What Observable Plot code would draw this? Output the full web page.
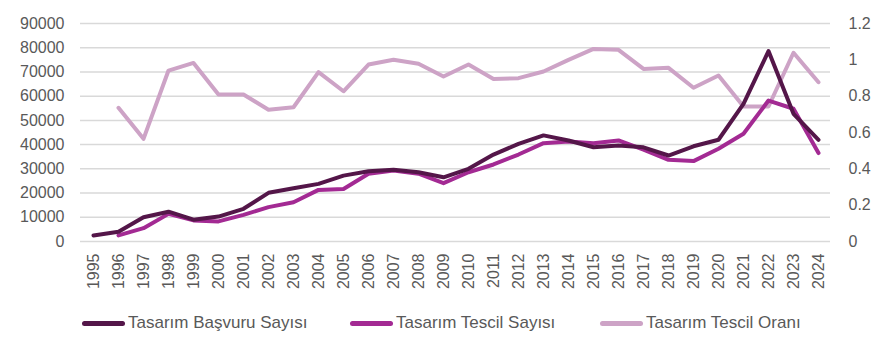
<!DOCTYPE html>
<html>
<head>
<meta charset="utf-8">
<script src="https://cdn.jsdelivr.net/npm/d3@7"></script>
<script src="https://cdn.jsdelivr.net/npm/@observablehq/plot@0.6"></script>
<style>
  html, body { margin: 0; padding: 0; background: #fff; }
  #wrap { position: relative; width: 889px; height: 356px; font-family: "Liberation Sans", Arial, sans-serif; }
  .leg { position: absolute; top: 313px; display: flex; align-items: center; font-size: 17px; color: #595959; white-space: nowrap; }
  .sw { width: 43px; height: 5px; border-radius: 3px; margin-right: 3px; }
</style>
</head>
<body>
<div id="wrap"></div>
<script>
const years = ["1995","1996","1997","1998","1999","2000","2001","2002","2003","2004","2005","2006","2007","2008","2009","2010","2011","2012","2013","2014","2015","2016","2017","2018","2019","2020","2021","2022","2023","2024"];
const basvuru = [2500,4000,10000,12300,9000,10300,13500,20100,22000,23800,27200,29000,29600,28600,26500,30000,35900,40300,43800,41700,38900,39600,38900,35500,39300,42000,56800,78600,52700,42000];
const tescil = [null,2500,5500,11400,8700,8300,11000,14200,16200,21300,21700,28000,29300,28000,24100,28600,31800,35900,40600,41300,40600,41700,37900,33700,33200,38300,44500,58200,54800,36500];
const oran = [null,0.736,0.565,0.941,0.983,0.809,0.809,0.725,0.739,0.932,0.827,0.974,1.0,0.978,0.908,0.974,0.895,0.899,0.936,1.0,1.06,1.055,0.95,0.956,0.846,0.914,0.743,0.743,1.039,0.877];
const leftTicks = [0,10000,20000,30000,40000,50000,60000,70000,80000,90000];
const rightTicks = [0,0.2,0.4,0.6,0.8,1,1.2];
const seriesNames = ["Tasarım Başvuru Sayısı","Tasarım Tescil Sayısı","Tasarım Tescil Oranı"];
const colors = ["#541649","#a32a93","#cda3c6"];

const ratioFactor = 90000 / 1.2;
const mk = (vals, f) => years.map((y, i) => ({year: y, v: vals[i] == null ? null : vals[i] * f}));
const dB = mk(basvuru, 1), dT = mk(tescil, 1), dO = mk(oran, ratioFactor);

const plot = Plot.plot({
  width: 889,
  height: 300,
  marginTop: 23,
  marginBottom: 59,
  marginLeft: 80,
  marginRight: 59,
  style: {fontFamily: "'Liberation Sans', Arial, sans-serif", fontSize: "16px", color: "#595959", background: "#fff"},
  x: {type: "point", domain: years, padding: 0.5, label: null},
  y: {domain: [0, 90000], label: null},
  marks: [
    Plot.ruleY(leftTicks, {stroke: "#d9d9d9", strokeWidth: 1.5}),
    Plot.axisY(leftTicks, {anchor: "left", label: null, tickSize: 0, tickPadding: 16, tickFormat: d => String(d), fill: "#595959", fontSize: 16}),
    Plot.axisY(rightTicks.map(d => d * ratioFactor), {anchor: "right", label: null, tickSize: 0, tickPadding: 18, textAnchor: "start", tickFormat: d => String(+(d / ratioFactor).toFixed(1)), fill: "#595959", fontSize: 16}),
    Plot.axisX({label: null, tickSize: 0, tickPadding: 12, tickRotate: -90, fill: "#595959", fontSize: 16}),
    Plot.lineY(dO, {x: "year", y: "v", stroke: colors[2], strokeWidth: 4, strokeLinejoin: "round"}),
    Plot.lineY(dT, {x: "year", y: "v", stroke: colors[1], strokeWidth: 4, strokeLinejoin: "round"}),
    Plot.lineY(dB, {x: "year", y: "v", stroke: colors[0], strokeWidth: 4, strokeLinejoin: "round"})
  ]
});
const wrap = document.getElementById("wrap");
wrap.appendChild(plot);
plot.style.position = "absolute"; plot.style.left = "0"; plot.style.top = "0";

const legX = [82, 350, 600];
seriesNames.forEach((name, i) => {
  const d = document.createElement("div");
  d.className = "leg";
  d.style.left = legX[i] + "px";
  d.innerHTML = `<span class="sw" style="background:${colors[i]}"></span><span>${name}</span>`;
  wrap.appendChild(d);
});
</script>
</body>
</html>
